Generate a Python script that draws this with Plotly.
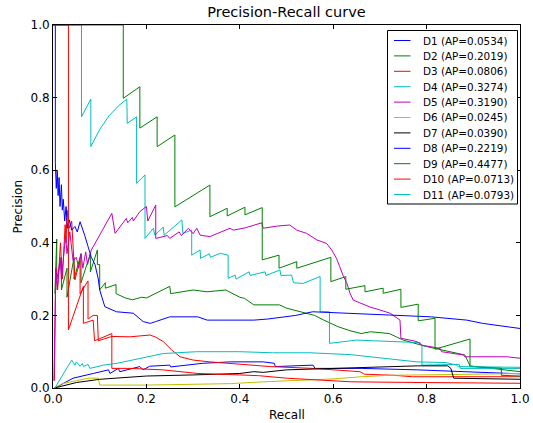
import plotly.graph_objects as go

# ---------------- data ----------------
NAMES = ["D1", "D2", "D3", "D4", "D5", "D6", "D7", "D8", "D9", "D10", "D11"]
AP = [0.0534, 0.2019, 0.0806, 0.3274, 0.3190, 0.0245, 0.0390, 0.2219, 0.4477, 0.0713, 0.0793]
COLORS = ["#0000ff", "#008000", "#ff0000", "#00bfbf", "#bf00bf", "#bfbf00",
          "#000000", "#0000ff", "#008000", "#ff0000", "#00bfbf"]

R_D1 = [0.004, 0.043, 0.086, 0.119, 0.122, 0.14, 0.143, 0.186, 0.193, 0.207, 0.25, 0.252,
        0.32, 0.38, 0.45, 0.474, 0.476, 0.557, 0.561, 0.66, 0.78, 0.85, 1.0]
P_D1 = [0.0, 0.027, 0.04, 0.05, 0.04, 0.054, 0.045, 0.059, 0.05, 0.06, 0.063, 0.058,
        0.068, 0.072, 0.072, 0.068, 0.059, 0.063, 0.054, 0.054, 0.05, 0.047, 0.039]

R_D2 = [0.004, 0.008, 0.008, 0.018, 0.018, 0.03, 0.03, 0.045, 0.045, 0.06, 0.06, 0.08, 0.08,
        0.095, 0.095, 0.1, 0.1, 0.112, 0.112, 0.135, 0.135, 0.155, 0.17, 0.19, 0.2, 0.24,
        0.25, 0.252, 0.3, 0.33, 0.37, 0.4, 0.41, 0.43, 0.485, 0.5, 0.53, 0.56, 0.58, 0.61,
        0.636, 0.66, 0.68, 0.72, 0.735, 0.75, 0.8, 0.85, 0.882, 0.893, 0.97, 1.0]
P_D2 = [0.26, 0.41, 0.30, 0.36, 0.27, 0.33, 0.25, 0.36, 0.30, 0.37, 0.29, 0.37, 0.32,
        0.38, 0.34, 0.34, 0.27, 0.29, 0.275, 0.285, 0.26, 0.248, 0.243, 0.25, 0.248, 0.275,
        0.28, 0.26, 0.27, 0.265, 0.27, 0.25, 0.247, 0.229, 0.229, 0.22, 0.21, 0.20, 0.187, 0.169,
        0.158, 0.15, 0.155, 0.15, 0.141, 0.132, 0.114, 0.1, 0.091, 0.061, 0.05, 0.045]

R_D3 = [0.003, 0.006, 0.01, 0.016, 0.02, 0.026, 0.028, 0.03, 0.035, 0.04, 0.047, 0.058,
        0.058, 0.075, 0.075, 0.086, 0.095, 0.097, 0.126, 0.165, 0.208, 0.22, 0.236, 0.254,
        0.272, 0.3, 0.336, 0.4, 0.465, 0.557, 0.6, 0.657, 0.667, 0.73, 0.77, 1.0]
P_D3 = [0.02, 0.33, 0.27, 0.40, 0.30, 0.45, 0.40, 0.49, 0.44, 0.46, 0.298, 0.352,
        0.26, 0.295, 0.19, 0.2, 0.2, 0.13, 0.142, 0.141, 0.146, 0.14, 0.128, 0.105,
        0.086, 0.077, 0.072, 0.065, 0.059, 0.054, 0.05, 0.045, 0.038, 0.035, 0.031, 0.031]

R_D4 = [0.0, 0.061, 0.061, 0.081, 0.081, 0.1, 0.12, 0.14, 0.158, 0.159, 0.179, 0.179, 0.197,
        0.197, 0.215, 0.218, 0.236, 0.238, 0.276, 0.278, 0.297, 0.297, 0.315, 0.316, 0.335,
        0.337, 0.358, 0.375, 0.375, 0.39, 0.392, 0.42, 0.422, 0.454, 0.456, 0.486, 0.488,
        0.511, 0.515, 0.535, 0.572, 0.572, 0.592, 0.592, 0.65, 0.7, 0.75, 0.786, 0.79, 0.79,
        0.87, 0.872, 1.0]
P_D4 = [1.0, 1.0, 0.747, 0.796, 0.665, 0.712, 0.75, 0.777, 0.796, 0.729, 0.747, 0.564, 0.587,
        0.412, 0.44, 0.421, 0.443, 0.421, 0.463, 0.426, 0.435, 0.366, 0.38, 0.357, 0.37,
        0.36, 0.371, 0.366, 0.302, 0.311, 0.30, 0.32, 0.31, 0.32, 0.31, 0.325, 0.31,
        0.311, 0.29, 0.288, 0.307, 0.21, 0.21, 0.123, 0.132, 0.13, 0.128, 0.125, 0.118, 0.063,
        0.065, 0.054, 0.054]

R_D5 = [0.002, 0.006, 0.009, 0.015, 0.018, 0.027, 0.03, 0.036, 0.043, 0.05, 0.055, 0.06,
        0.064, 0.07, 0.074, 0.082, 0.126, 0.133, 0.157, 0.16, 0.17, 0.172, 0.186, 0.2, 0.203,
        0.22, 0.22, 0.245, 0.25, 0.27, 0.275, 0.29, 0.3, 0.308, 0.315, 0.336, 0.36, 0.379,
        0.386, 0.411, 0.447, 0.45, 0.479, 0.507, 0.522, 0.543, 0.565, 0.586, 0.597, 0.607,
        0.614, 0.622, 0.629, 0.636, 0.643, 0.657, 0.679, 0.7, 0.722, 0.743, 0.745, 0.779,
        0.79, 0.829, 0.832, 0.879, 0.882, 0.972, 1.0]
P_D5 = [0.02, 0.33, 0.27, 0.36, 0.30, 0.42, 0.37, 0.43, 0.35, 0.36, 0.33, 0.37,
        0.33, 0.375, 0.34, 0.38, 0.481, 0.426, 0.467, 0.455, 0.47, 0.46, 0.486, 0.5, 0.46,
        0.504, 0.412, 0.42, 0.412, 0.43, 0.42, 0.44, 0.425, 0.44, 0.421, 0.417, 0.43, 0.44,
        0.435, 0.441, 0.455, 0.44, 0.446, 0.449, 0.435, 0.426, 0.408, 0.398, 0.38, 0.357,
        0.334, 0.307, 0.29, 0.261, 0.242, 0.235, 0.223, 0.215, 0.206, 0.187, 0.137, 0.128,
        0.118, 0.109, 0.1, 0.091, 0.086, 0.086, 0.082]

R_D6 = [0.003, 0.02, 0.05, 0.075, 0.097, 0.1, 0.2, 0.3, 0.38, 0.45, 0.5, 0.6, 0.66, 0.72, 0.85, 1.0]
P_D6 = [0.0, 0.012, 0.02, 0.027, 0.027, 0.008, 0.008, 0.01, 0.012, 0.017, 0.02, 0.025, 0.031,
        0.035, 0.037, 0.04]

R_D7 = [0.003, 0.05, 0.1, 0.15, 0.2, 0.3, 0.4, 0.43, 0.45, 0.5, 0.55, 0.6, 0.7, 0.78, 0.845,
        0.852, 0.858, 1.0]
P_D7 = [0.0, 0.015, 0.024, 0.029, 0.033, 0.036, 0.04, 0.045, 0.043, 0.05, 0.052, 0.055, 0.059,
        0.061, 0.061, 0.054, 0.027, 0.024]

R_D8 = [0.0, 0.005, 0.005, 0.007, 0.009, 0.011, 0.013, 0.015, 0.018, 0.02, 0.022, 0.025, 0.028,
        0.031, 0.035, 0.04, 0.047, 0.052, 0.058, 0.062, 0.068, 0.075, 0.082, 0.09, 0.097, 0.1,
        0.107, 0.111, 0.136, 0.172, 0.193, 0.208, 0.22, 0.25, 0.31, 0.33, 0.36, 0.43, 0.46,
        0.52, 0.556, 0.6, 0.64, 0.72, 0.81, 0.886, 0.92, 1.0]
P_D8 = [1.0, 1.0, 0.62, 0.55, 0.6, 0.53, 0.58, 0.5, 0.56, 0.49, 0.52, 0.46, 0.5, 0.44, 0.463,
        0.435, 0.445, 0.43, 0.458, 0.445, 0.42, 0.39, 0.36, 0.34, 0.3, 0.27, 0.242, 0.224,
        0.21, 0.206, 0.183, 0.178, 0.183, 0.196, 0.196, 0.187, 0.187, 0.187, 0.19, 0.2, 0.21,
        0.208, 0.206, 0.201, 0.196, 0.187, 0.178, 0.164]

R_D9 = [0.0, 0.1505, 0.1505, 0.186, 0.186, 0.223, 0.223, 0.261, 0.261, 0.336, 0.336, 0.373,
        0.373, 0.411, 0.411, 0.448, 0.448, 0.484, 0.484, 0.522, 0.522, 0.595, 0.595, 0.627,
        0.627, 0.668, 0.668, 0.707, 0.707, 0.745, 0.745, 0.782, 0.782, 0.818, 0.818, 0.893,
        0.893, 0.96, 0.96, 1.0]
P_D9 = [1.0, 1.0, 0.798, 0.83, 0.716, 0.747, 0.665, 0.697, 0.499, 0.559, 0.472, 0.495,
        0.474, 0.498, 0.477, 0.497, 0.353, 0.366, 0.33, 0.348, 0.33, 0.36, 0.293, 0.307,
        0.272, 0.282, 0.265, 0.275, 0.261, 0.272, 0.222, 0.231, 0.185, 0.192, 0.107, 0.135,
        0.059, 0.055, 0.035, 0.033]

R_D10 = [0.0, 0.033, 0.033, 0.065, 0.065, 0.086, 0.089, 0.126, 0.126, 0.165, 0.235, 0.31, 0.4,
         0.44, 0.5, 0.56, 0.64, 0.8, 1.0]
P_D10 = [1.0, 1.0, 0.16, 0.28, 0.178, 0.187, 0.13, 0.15, 0.054, 0.054, 0.05, 0.04, 0.036,
         0.034, 0.027, 0.022, 0.017, 0.015, 0.013]

R_D11 = [0.004, 0.04, 0.047, 0.05, 0.058, 0.063, 0.065, 0.075, 0.079, 0.108, 0.137, 0.186,
         0.236, 0.308, 0.4, 0.47, 0.55, 0.636, 0.707, 0.779, 0.842, 0.864, 0.868, 1.0]
P_D11 = [0.0, 0.077, 0.063, 0.072, 0.06, 0.068, 0.059, 0.065, 0.054, 0.063, 0.068, 0.082,
         0.095, 0.1, 0.1, 0.097, 0.097, 0.092, 0.082, 0.072, 0.07, 0.063, 0.059, 0.057]

RECALLS = [R_D1, R_D2, R_D3, R_D4, R_D5, R_D6, R_D7, R_D8, R_D9, R_D10, R_D11]
PRECISIONS = [P_D1, P_D2, P_D3, P_D4, P_D5, P_D6, P_D7, P_D8, P_D9, P_D10, P_D11]

TICKS = [0.0, 0.2, 0.4, 0.6, 0.8, 1.0]
TICK_TEXT = ["0.0", "0.2", "0.4", "0.6", "0.8", "1.0"]

FONT = "DejaVu Sans"

fig = go.Figure()
labels = []
for name, ap, col, rr, pp in zip(NAMES, AP, COLORS, RECALLS, PRECISIONS):
    if len(rr) != len(pp):
        raise ValueError(f"length mismatch in {name}: {len(rr)} vs {len(pp)}")
    lab = f"{name} (AP={ap:.4f})"
    labels.append(lab)
    fig.add_trace(go.Scatter(x=rr, y=pp, mode="lines", name=lab,
                             line=dict(color=col, width=1), showlegend=False,
                             cliponaxis=True))

# hand-built legend box (matplotlib-like, compact rows)
W, H = 533, 423
L, Rm, T, B = 53, 13, 25, 35
pw, ph = W - L - Rm, H - T - B


def px_x(px):
    return (px - L) / pw


def px_y(py):
    return (H - B - py) / ph


shapes = [dict(type="rect", xref="paper", yref="paper",
               x0=px_x(387.5), x1=px_x(517.5), y0=px_y(204), y1=px_y(30.5),
               line=dict(color="black", width=1), fillcolor="white", layer="above")]
annotations = []
for i, (lab, col) in enumerate(zip(labels, COLORS)):
    yy = px_y(40.5 + 15.4 * i)
    shapes.append(dict(type="line", xref="paper", yref="paper",
                       x0=px_x(394), x1=px_x(410.5), y0=yy, y1=yy,
                       line=dict(color=col, width=1), layer="above"))
    annotations.append(dict(text=lab, xref="paper", yref="paper", x=px_x(420.5), y=yy,
                            xanchor="left", yanchor="middle", showarrow=False,
                            font=dict(family=FONT, size=10.4, color="black")))

# axis titles (placed like matplotlib's)
annotations.append(dict(text="Recall", xref="paper", yref="paper", x=0.5, y=px_y(415),
                        xanchor="center", yanchor="middle", showarrow=False,
                        font=dict(family=FONT, size=12, color="black")))
annotations.append(dict(text="Precision", xref="paper", yref="paper", x=px_x(17), y=0.5,
                        xanchor="center", yanchor="middle", showarrow=False, textangle=-90,
                        font=dict(family=FONT, size=12, color="black")))

axis_common = dict(range=[0, 1], tickvals=TICKS, ticktext=TICK_TEXT, ticks="inside",
                   ticklen=4, tickwidth=1, tickcolor="black", showline=True,
                   linecolor="black", linewidth=1, mirror="allticks", showgrid=False,
                   zeroline=False, tickfont=dict(family=FONT, size=12, color="black"),
                   fixedrange=True, automargin=False)

fig.update_layout(
    template="none",
    width=W, height=H,
    margin=dict(l=L, r=Rm, t=T, b=B, pad=0, autoexpand=False),
    paper_bgcolor="white", plot_bgcolor="white",
    font=dict(family=FONT, color="black"),
    title=dict(text="Precision-Recall curve", x=0.5, xref="paper", xanchor="center",
               y=1 - 12 / H, yref="container", yanchor="middle",
               font=dict(family=FONT, size=14.5, color="black")),
    xaxis=dict(**axis_common),
    yaxis=dict(**axis_common),
    shapes=shapes, annotations=annotations, showlegend=False,
)

fig.write_html("out.html",
               config={"displayModeBar": False, "staticPlot": True},
               post_script="document.body.style.margin='0px';"
                           "document.body.style.overflow='hidden';")
